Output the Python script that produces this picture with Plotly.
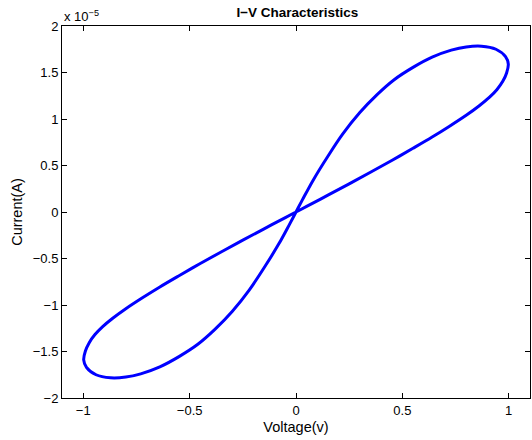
import plotly.graph_objects as go

# Voltage (V) and current (in units of 1e-5 A).
# Path: origin -> steep rise -> right tip -> shallow return -> origin
#       -> shallow descent -> left tip -> steep return -> origin
voltage = [0.0, 0.03, 0.08, 0.15, 0.22, 0.30, 0.38, 0.46, 0.55, 0.64, 0.73, 0.80, 0.872,
           0.94, 0.985, 0.998, 0.99, 0.972, 0.945, 0.91, 0.86, 0.80, 0.72, 0.64, 0.55,
           0.45, 0.35, 0.25, 0.15, 0.05, 0.0,
           -0.05, -0.15, -0.25, -0.35, -0.45, -0.55, -0.64, -0.72, -0.80, -0.86, -0.91,
           -0.945, -0.972, -0.99, -0.998, -0.985, -0.94, -0.872, -0.80, -0.73, -0.64, -0.55,
           -0.46, -0.38, -0.30, -0.22, -0.15, -0.08, -0.03, 0.0]
current_e5 = [0.0, 0.13, 0.34, 0.60, 0.84, 1.07, 1.26, 1.42, 1.555, 1.665, 1.74, 1.775, 1.783,
              1.75, 1.67, 1.59, 1.495, 1.405, 1.318, 1.235, 1.14, 1.04, 0.92, 0.806, 0.685,
              0.554, 0.427, 0.303, 0.181, 0.06, 0.0,
              -0.06, -0.181, -0.303, -0.427, -0.554, -0.685, -0.806, -0.92, -1.04, -1.14, -1.235,
              -1.318, -1.405, -1.495, -1.59, -1.67, -1.75, -1.783, -1.775, -1.74, -1.665, -1.555,
              -1.42, -1.26, -1.07, -0.84, -0.60, -0.34, -0.13, 0.0]

x_ticks = [-1, -0.5, 0, 0.5, 1]
x_tick_text = ["\u22121", "\u22120.5", "0", "0.5", "1"]
y_ticks = [-2, -1.5, -1, -0.5, 0, 0.5, 1, 1.5, 2]
y_tick_text = ["\u22122", "\u22121.5", "\u22121", "\u22120.5", "0", "0.5", "1", "1.5", "2"]

FONT = "Liberation Sans, Arial, sans-serif"

fig = go.Figure()
fig.add_trace(go.Scatter(
    x=voltage, y=current_e5, mode="lines",
    line=dict(color="#0000ff", width=3, shape="spline", smoothing=1.0),
    showlegend=False, hoverinfo="skip"))

axis_common = dict(
    showgrid=False, zeroline=False, showline=True, linecolor="#000000", linewidth=1,
    mirror="ticks", ticks="inside", ticklen=5, tickcolor="#000000",
    tickfont=dict(family=FONT, size=13, color="#000000"),
)

fig.update_layout(
    width=532, height=440,
    margin=dict(l=62, r=2, t=26, b=42),
    paper_bgcolor="white", plot_bgcolor="white",
    title=dict(text="<b>I\u2212V Characteristics</b>", x=0.559, xanchor="center", y=0.971, yanchor="middle",
               font=dict(family=FONT, size=13.5, color="#000000")),
    xaxis=dict(range=[-1.1, 1.1], tickvals=x_ticks, ticktext=x_tick_text,
               title=dict(text="Voltage(v)", standoff=5,
                          font=dict(family=FONT, size=14.5, color="#000000")),
               **axis_common),
    yaxis=dict(range=[-2, 2], tickvals=y_ticks, ticktext=y_tick_text,
               title=dict(text="Current(A)", standoff=6,
                          font=dict(family=FONT, size=14.5, color="#000000")),
               **axis_common),
    annotations=[dict(text="x 10<sup>\u22125</sup>", xref="paper", yref="paper", x=0.0, y=1.0,
                      xanchor="left", yanchor="bottom", showarrow=False,
                      font=dict(family=FONT, size=13, color="#000000"))],
)

fig.write_html("out.html")
